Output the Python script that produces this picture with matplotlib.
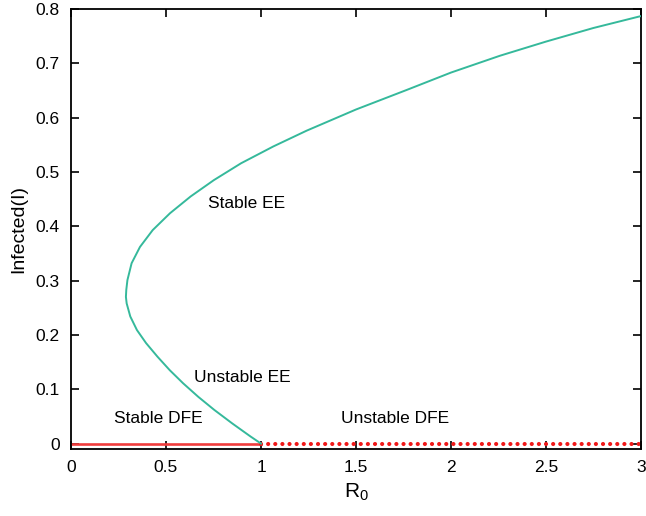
import numpy as np
import matplotlib
matplotlib.use("Agg")
import matplotlib.pyplot as plt

# equilibrium curve (R0, I), from (1,0) round the turn to the top
r0_curve = [1.000, 0.945, 0.849, 0.754, 0.670, 0.590, 0.520, 0.455, 0.395, 0.347,
            0.312, 0.293, 0.289, 0.291, 0.297, 0.319, 0.363, 0.430, 0.521, 0.630,
            0.752, 0.895, 1.065, 1.240, 1.500, 1.767, 2.000, 2.258, 2.500, 2.749, 3.000]
i_curve = [0.000, 0.013, 0.037, 0.062, 0.086, 0.111, 0.135, 0.160, 0.185, 0.209,
           0.234, 0.258, 0.270, 0.283, 0.301, 0.332, 0.362, 0.393, 0.424, 0.455,
           0.485, 0.516, 0.547, 0.576, 0.615, 0.651, 0.683, 0.714, 0.740, 0.765, 0.787]

# disease free equilibrium
dfe_stable_x = [0, 1]
dfe_unstable_x = [1, 3]
dfe_y = [0, 0]

labels = ["Stable EE", "Unstable EE", "Stable DFE", "Unstable DFE"]
label_x = [0.925, 0.90, 0.457, 1.705]
label_y = [0.442, 0.121, 0.046, 0.046]

plt.rcParams['font.family'] = ['Liberation Sans', 'DejaVu Sans']
plt.rcParams['mathtext.default'] = 'regular'

fig = plt.figure(figsize=(6.46, 5.16), dpi=100)
ax = fig.add_axes([71/646, 1 - 449/516, 570/646, 440/516])

ax.plot(dfe_stable_x, dfe_y, color='#f03c3c', lw=1.9, zorder=2)
ax.plot(dfe_unstable_x, dfe_y, color='#f01818', lw=3.0, linestyle=(0, (0.01, 1.7)),
        dash_capstyle='round', zorder=2)
ax.plot(r0_curve, i_curve, color='#35b99b', lw=1.4, zorder=3, solid_joinstyle='round')

for t, x, y in zip(labels, label_x, label_y):
    ax.text(x, y, t, ha='center', va='center', fontsize=12.5)

ax.set_xlim(0, 3)
ax.set_ylim(-0.01, 0.8)
ax.set_xticks(np.arange(0, 3.01, 0.5))
ax.set_xticklabels(['0', '0.5', '1', '1.5', '2', '2.5', '3'])
ax.set_yticks(np.arange(0, 0.81, 0.1))
ax.set_yticklabels(['0', '0.1', '0.2', '0.3', '0.4', '0.5', '0.6', '0.7', '0.8'])
ax.tick_params(direction='in', top=True, right=True, length=6, width=1.2,
               labelsize=12.5, pad=8)
for s in ax.spines.values():
    s.set_linewidth(1.3)

ax.set_xlabel('R$_0$', fontsize=15, labelpad=5)
ax.set_ylabel('Infected(I)', fontsize=14, labelpad=6)

fig.savefig('out.png', dpi=100)
